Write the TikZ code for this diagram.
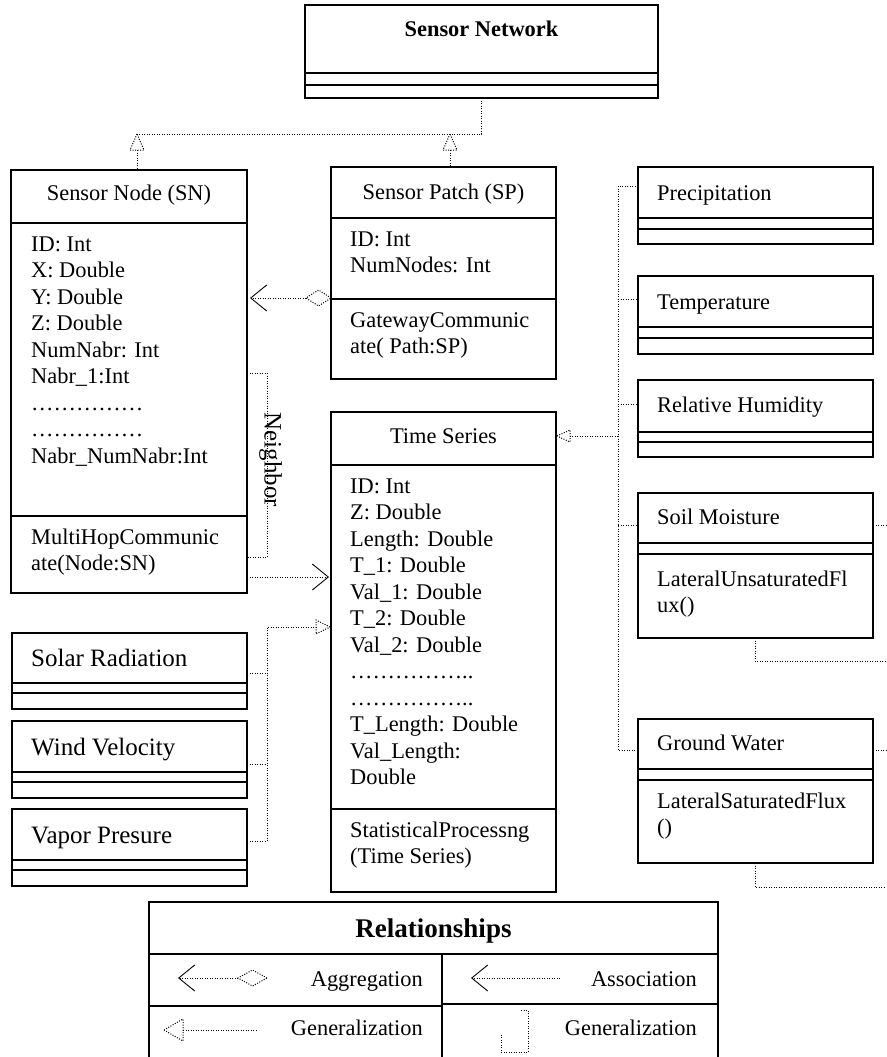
\documentclass[tikz,border=0pt]{standalone}
\usepackage{fontspec}
\setmainfont{Liberation Serif}
\usetikzlibrary{arrows.meta}
\begin{document}
\begin{tikzpicture}[x=1pt,y=-1pt,
  box/.style={draw, line width=1.4pt, anchor=north west, inner sep=0, outer sep=0},
  div/.style={line width=1.4pt},
  dotline/.style={line width=1pt, dash pattern=on 1pt off 1.5pt},
  vtip/.style={-{Straight Barb[length=16pt,width=26pt,line width=0.9pt]}},
  body/.style={font=\fontsize{22.4}{26.5}\selectfont, inner sep=0, anchor=north west, align=left, execute at begin node=\strut},
  ttl/.style={font=\fontsize{22.4}{26.5}\selectfont, inner sep=0, anchor=base},
  ttlL/.style={font=\fontsize{22.4}{26.5}\selectfont, inner sep=0, anchor=base west},
  big/.style={font=\fontsize{25}{30}\selectfont, inner sep=0, anchor=base west},
  lgd/.style={font=\fontsize{22.4}{26.5}\selectfont, inner sep=0, anchor=base east}
]
\useasboundingbox (0,0) rectangle (886,1057);
\fill[white] (0,0) rectangle (886,1057);

% ---------- boxes ----------
\node[box, minimum width=353, minimum height=93] (net) at (305,5) {};
\draw[div] (305,73) -- (658,73);
\draw[div] (305,85) -- (658,85);
\node[ttl, font=\fontsize{22.4}{26.5}\selectfont\bfseries] (netT) at (481.5,37) {Sensor Network};

\node[box, minimum width=236, minimum height=423] (sn) at (11,170) {};
\draw[div] (11,223) -- (247,223);
\draw[div] (11,516) -- (247,516);
\node[ttl] (snT) at (129,200) {Sensor Node (SN)};
\node[body] (snA) at (31,236.45) {ID: Int\\X: Double\\Y: Double\\Z: Double\\NumNabr: Int\\Nabr\_1:Int\\……………\\……………\\Nabr\_NumNabr:Int};
\node[body] (snM) at (31,528.45) {MultiHopCommunic\\ate(Node:SN)};

\node[box, minimum width=225, minimum height=212] (sp) at (331,167) {};
\draw[div] (331,218) -- (556,218);
\draw[div] (331,299) -- (556,299);
\node[ttl] (spT) at (443.5,199) {Sensor Patch (SP)};
\node[body] (spA) at (350,231.45) {ID: Int\\NumNodes: Int};
\node[body] (spM) at (350,312.45) {GatewayCommunic\\ate( Path:SP)};

\node[box, minimum width=225, minimum height=480] (ts) at (331,412) {};
\draw[div] (331,465) -- (556,465);
\draw[div] (331,809) -- (556,809);
\node[ttl] (tsT) at (443.5,443) {Time Series};
\node[body] (tsA) at (350,478.45) {ID: Int\\Z: Double\\Length: Double\\T\_1: Double\\Val\_1: Double\\T\_2: Double\\Val\_2: Double\\……………..\\……………..\\T\_Length: Double\\Val\_Length:\\Double};
\node[body] (tsM) at (350,821.45) {StatisticalProcessng\\(Time Series)};

% right column
\node[box, minimum width=235, minimum height=77] (prec) at (638,167) {};
\draw[div] (638,218) -- (873,218);
\draw[div] (638,229) -- (873,229);
\node[ttlL] (precT) at (657,200) {Precipitation};

\node[box, minimum width=235, minimum height=78] (temp) at (638,276) {};
\draw[div] (638,327) -- (873,327);
\draw[div] (638,338) -- (873,338);
\node[ttlL] (tempT) at (657,309) {Temperature};

\node[box, minimum width=235, minimum height=77] (rh) at (638,380) {};
\draw[div] (638,432) -- (873,432);
\draw[div] (638,442) -- (873,442);
\node[ttlL] (rhT) at (657,412) {Relative Humidity};

\node[box, minimum width=235, minimum height=145] (soil) at (638,493) {};
\draw[div] (638,543) -- (873,543);
\draw[div] (638,554) -- (873,554);
\node[ttlL] (soilT) at (657,524) {Soil Moisture};
\node[body] (soilM) at (657,570.45) {LateralUnsaturatedFl\\ux()};

\node[box, minimum width=235, minimum height=144] (gw) at (638,719) {};
\draw[div] (638,769) -- (873,769);
\draw[div] (638,780) -- (873,780);
\node[ttlL] (gwT) at (657,750) {Ground Water};
\node[body] (gwM) at (657,792.45) {LateralSaturatedFlux\\()};

% left bottom column
\node[box, minimum width=235, minimum height=76] (solar) at (12,633) {};
\draw[div] (12,683) -- (247,683);
\draw[div] (12,693) -- (247,693);
\node[big] (solarT) at (31,666) {Solar Radiation};

\node[box, minimum width=235, minimum height=77] (wind) at (12,721) {};
\draw[div] (12,772) -- (247,772);
\draw[div] (12,782) -- (247,782);
\node[big] (windT) at (31,755) {Wind Velocity};

\node[box, minimum width=235, minimum height=77] (vapor) at (12,809) {};
\draw[div] (12,860) -- (247,860);
\draw[div] (12,870) -- (247,870);
\node[big] (vaporT) at (31,843) {Vapor Presure};

% ---------- connectors ----------
% Sensor Network generalization
\coordinate (gA) at (137,134);
\coordinate (gB) at (450,134);
\draw[dotline] (net.south) -- (481.5,134) -- (gA);
\draw[dotline] (gA) -- (130,150) -- (144,150) -- cycle;
\draw[dotline] (gB) -- (443,150) -- (457,150) -- cycle;
\draw[dotline] (137,150) -- (sn.north -| 137,0);
\draw[dotline] (450,150) -- (sp.north -| 450,0);

% aggregation SP -> SN
\draw[dotline] (331,298) -- (318.5,290) -- (306,298) -- (318.5,306) -- cycle;
\draw[dotline, vtip] (306,298) -- (250,298);

% neighbor self association
\draw[dotline] (247,373) -- (267,373) -- (267,557) -- (247,557);
\node[font=\fontsize{25}{30}\selectfont, inner sep=0, rotate=-90] (nb) at (270.5,460) {Neighbor};

% association SN -> TS
\draw[dotline, vtip] (247,577) -- (329,577);

% left generalization to Time Series
\draw[dotline] (247,673) -- (267,673);
\draw[dotline] (247,764) -- (267,764);
\draw[dotline] (247,841) -- (267,841) -- (267,627) -- (316,627);
\draw[dotline] (330,627) -- (316,620) -- (316,634) -- cycle;

% right generalization to Time Series
\draw[dotline] (638,186) -- (618,186) -- (618,750) -- (638,750);
\draw[dotline] (618,299) -- (638,299);
\draw[dotline] (618,404) -- (638,404);
\draw[dotline] (618,525) -- (638,525);
\draw[dotline] (618,436) -- (570,436);
\draw[dotline] (557,436) -- (570,430) -- (570,442) -- cycle;

% dangling connectors on right
\draw[dotline] (873,525) -- (886,525);
\draw[dotline] (755,638) -- (755,661) -- (886,661);
\draw[dotline] (873,750) -- (886,750);
\draw[dotline] (755,863) -- (755,887) -- (886,887);

% ---------- legend ----------
\node[box, minimum width=569, minimum height=160] (leg) at (149,902) {};
\draw[div] (149,954) -- (718,954);
\draw[div] (442,954) -- (442,1062);
\draw[div] (149,1006) -- (442,1006);
\draw[div] (442,1004) -- (718,1004);
\node[ttl, font=\fontsize{27}{32}\selectfont\bfseries] (legT) at (433.5,937) {Relationships};
\node[lgd] (l1) at (423,986) {Aggregation};
\node[lgd] (l2) at (697,986) {Association};
\node[lgd] (l3) at (423,1035) {Generalization};
\node[lgd] (l4) at (697,1035) {Generalization};

\draw[dotline] (267,978) -- (252.5,970) -- (238,978) -- (252.5,986) -- cycle;
\draw[dotline, vtip] (238,978) -- (178,978);
\draw[dotline] (164,1030) -- (183,1019) -- (183,1041) -- cycle;
\draw[dotline] (183,1030) -- (257,1030);
\draw[dotline, vtip] (560,978) -- (471,978);
\draw[dotline] (521,1010) -- (528,1010) -- (528,1052) -- (501,1052) -- (501,1033);
\end{tikzpicture}
\end{document}
